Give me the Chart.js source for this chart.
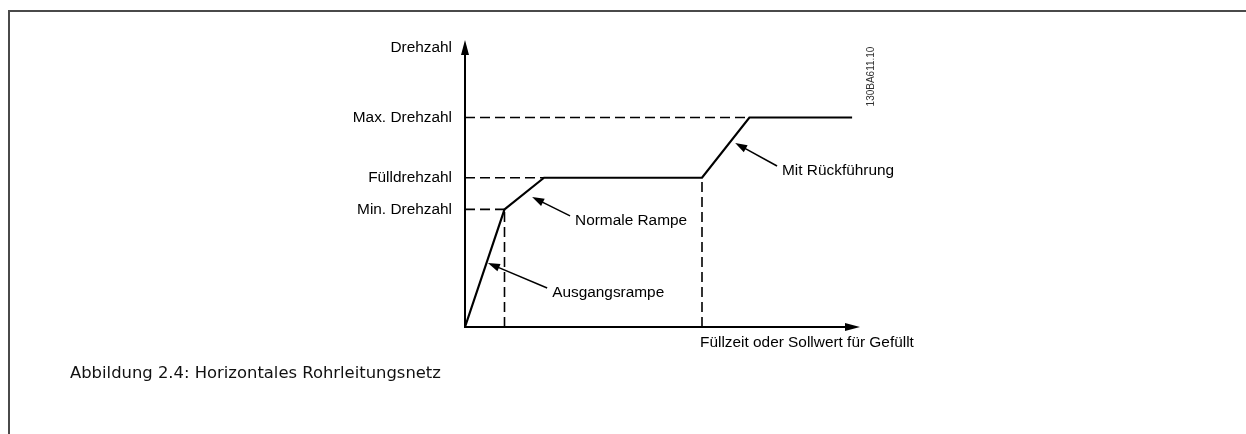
<!DOCTYPE html>
<html>
<head>
<meta charset="utf-8">
<title>Horizontales Rohrleitungsnetz</title>
<script src="https://cdn.jsdelivr.net/npm/chart.js"></script>
<style>
  body { margin: 0; background: #fff; }
  .page { position: relative; width: 1246px; height: 434px; overflow: hidden; }
  .frame { position: absolute; left: 8px; top: 10px; width: 1250px; height: 440px; border-top: 2px solid #4a4a4a; border-left: 2px solid #4a4a4a; }
  .chart { position: absolute; left: 0; top: 0; width: 1246px; height: 434px; }
  .caption { position: absolute; left: 70px; top: 363px; font: 16.4px/20px "DejaVu Sans", sans-serif; color: #111; white-space: nowrap; }
</style>
</head>
<body>
<div class="page">
  <div class="frame"></div>
  <div class="chart"><canvas id="chart"></canvas></div>
  <div class="caption">Abbildung 2.4: Horizontales Rohrleitungsnetz</div>
</div>
<script>
// speed profile (time units / speed units, axis runs 0..100)
const profileX = [0, 10, 20, 60, 72, 98];
const profileY = [0, 41, 52, 52, 73, 73];

// y tick labels at the three speed levels
const yTickValues = [41, 52, 73];
const yTickLabels = ["Min. Drehzahl", "Fülldrehzahl", "Max. Drehzahl"];
const yTitle = "Drehzahl";
const xTitle = "Füllzeit oder Sollwert für Gefüllt";
const drawingId = "130BA611.10";

// arrow annotations: tip on the curve, tail next to the text
const noteTexts = ["Ausgangsrampe", "Normale Rampe", "Mit Rückführung"];
const noteTipX = [5.8, 17, 68.4];
const noteTipY = [22.3, 45.3, 64.1];
const noteTailX = [20.8, 26.6, 79];
const noteTailY = [13.6, 38.7, 56.1];

const X_MAX = 100;
const Y_MAX = 100;
const FONT = "15.4px 'Liberation Sans', Arial, sans-serif";

const pts = (xs, ys) => xs.map((v, i) => ({ x: v, y: ys[i] }));

// dashed guides: horizontal ones from the y axis to the breakpoints,
// vertical ones from the breakpoints down to the x axis
const guideH = [1, 2, 4].map((i) => pts([0, profileX[i]], [profileY[i], profileY[i]]));
const guideV = [1, 3].map((i) => pts([profileX[i], profileX[i]], [0, profileY[i]]));

const dashed = (data) => ({
  data, borderColor: "#000", borderWidth: 1.6, borderDash: [10, 5],
  pointRadius: 0, tension: 0, clip: false,
});

function head(ctx, tx, ty, dx, dy, len, half) {
  const bx = tx - dx * len, by = ty - dy * len;
  ctx.beginPath();
  ctx.moveTo(tx, ty);
  ctx.lineTo(bx - dy * half, by + dx * half);
  ctx.lineTo(bx + dy * half, by - dx * half);
  ctx.closePath();
  ctx.fill();
}

const drawing = {
  id: "drawing",
  afterDatasetsDraw(chart) {
    const { ctx, scales: { x, y } } = chart;
    const x0 = x.getPixelForValue(0), y0 = y.getPixelForValue(0);
    const xEnd = x.getPixelForValue(X_MAX), yEnd = y.getPixelForValue(Y_MAX);
    ctx.save();
    ctx.strokeStyle = "#000";
    ctx.fillStyle = "#000";

    // axes with arrow heads
    ctx.lineWidth = 2;
    ctx.beginPath();
    ctx.moveTo(x0, y0 + 1); ctx.lineTo(x0, yEnd + 10);
    ctx.moveTo(x0 - 1, y0); ctx.lineTo(xEnd - 10, y0);
    ctx.stroke();
    head(ctx, x0, yEnd, 0, -1, 15, 4);
    head(ctx, xEnd, y0, 1, 0, 15, 4);

    // axis titles
    ctx.font = FONT;
    ctx.textBaseline = "middle";
    ctx.textAlign = "right";
    ctx.fillText(yTitle, x0 - 13, yEnd + 8);
    ctx.textAlign = "left";
    ctx.fillText(xTitle, x.getPixelForValue(profileX[3]) - 2, y0 + 16);

    // annotations
    ctx.lineWidth = 1.5;
    noteTexts.forEach((t, i) => {
      const tx = x.getPixelForValue(noteTipX[i]), ty = y.getPixelForValue(noteTipY[i]);
      const sx = x.getPixelForValue(noteTailX[i]), sy = y.getPixelForValue(noteTailY[i]);
      const len = Math.hypot(tx - sx, ty - sy);
      const dx = (tx - sx) / len, dy = (ty - sy) / len;
      ctx.beginPath();
      ctx.moveTo(sx, sy);
      ctx.lineTo(tx - dx * 8, ty - dy * 8);
      ctx.stroke();
      head(ctx, tx, ty, dx, dy, 12, 4);
      ctx.fillText(t, sx + 5, sy + 4.5);
    });

    // drawing number, rotated
    ctx.font = "10px 'Liberation Sans', Arial, sans-serif";
    ctx.fillStyle = "#333";
    ctx.translate(xEnd + 11.5, yEnd + 36.5);
    ctx.rotate(-Math.PI / 2);
    ctx.textAlign = "center";
    ctx.fillText(drawingId, 0, 0);
    ctx.restore();
  },
};

new Chart(document.getElementById("chart"), {
  type: "line",
  data: {
    datasets: [
      {
        data: pts(profileX, profileY), borderColor: "#000", borderWidth: 2.2,
        pointRadius: 0, tension: 0, clip: false,
      },
      ...guideH.map(dashed),
      ...guideV.map(dashed),
    ],
  },
  options: {
    responsive: true,
    maintainAspectRatio: false,
    animation: false,
    events: [],
    layout: { padding: { left: 345, top: 40, right: 386, bottom: 107 } },
    plugins: { legend: { display: false }, tooltip: { enabled: false } },
    scales: {
      x: { type: "linear", min: 0, max: X_MAX, display: false },
      y: {
        type: "linear", min: 0, max: Y_MAX,
        grid: { display: false },
        border: { display: false },
        afterFit: (scale) => { scale.width = 120; },
        afterBuildTicks: (scale) => { scale.ticks = yTickValues.map((v) => ({ value: v })); },
        ticks: {
          padding: 5,
          color: "#000",
          font: { family: "'Liberation Sans', Arial, sans-serif", size: 15.4 },
          callback: (v, i) => yTickLabels[i],
        },
      },
    },
  },
  plugins: [drawing],
});
</script>
</body>
</html>
